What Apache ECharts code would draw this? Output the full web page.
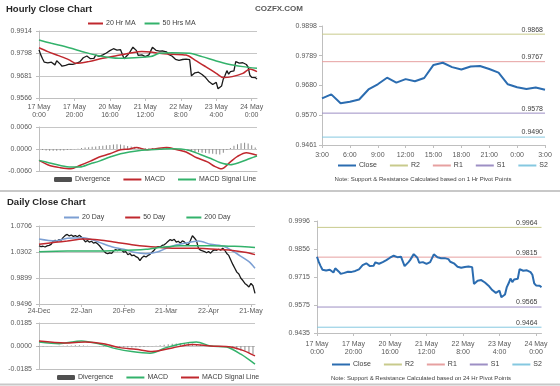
<!DOCTYPE html>
<html><head><meta charset="utf-8">
<script src="https://cdn.jsdelivr.net/npm/echarts@6/dist/echarts.min.js"></script>
<style>html,body{margin:0;padding:0;background:#fff}#c{width:560px;height:386px}</style>
</head><body><div id="c"></div>
<script>
// ---------- DATA ----------
// Hourly closes, 17 May 0:00 .. 24 May 3:00 (trading hours)
const hourlyClose = [
0.9817,0.9790,0.9770,0.9752,0.9759,0.9748,0.9742,0.9752,0.9750,0.9738,
0.9759,0.9755,0.9742,0.9731,0.9729,0.9736,0.9739,0.9742,0.9738,0.9741,
0.9739,0.9746,0.9744,0.9754,0.9762,0.9775,0.9780,0.9784,0.9776,0.9770,
0.9778,0.9772,0.9789,0.9786,0.9782,0.9792,0.9790,0.9786,0.9800,0.9809,
0.9812,0.9817,0.9822,0.9825,0.9815,0.9819,0.9817,0.9812,0.9770,0.9776,
0.9789,0.9800,0.9809,0.9830,0.9824,0.9812,0.9787,0.9785,0.9790,0.9787,
0.9781,0.9775,0.9790,0.9800,0.9829,0.9820,0.9814,0.9811,0.9809,0.9812,
0.9810,0.9817,0.9805,0.9792,0.9790,0.9784,0.9778,0.9767,0.9770,0.9762,
0.9759,0.9766,0.9764,0.9768,0.9764,0.9765,0.9681,0.9690,0.9697,0.9694,
0.9700,0.9692,0.9688,0.9684,0.9672,0.9664,0.9650,0.9642,0.9636,0.9632,
0.9647,0.9614,0.9620,0.9628,0.9665,0.9684,0.9708,0.9690,0.9703,0.9695,
0.9707,0.9755,0.9763,0.9747,0.9738,0.9749,0.9751,0.9740,0.9727,0.9684,
0.9673,0.9667,0.9672,0.9664];
// [hour index, value]
const ma20Hr = [[0,0.9827],[5,0.9807],[11,0.9786],[17,0.9764],[21,0.9746],[28,0.9755],[36,0.9772],[43,0.9784],[51,0.9798],[58,0.9807],[63,0.9805],[68,0.9798],[75,0.9793],[83,0.9789],[88,0.9763],[94,0.9729],[100,0.9694],[104,0.9672],[109,0.9677],[115,0.9694],[119,0.9717],[123,0.9703]];
const ma50Hr = [[0,0.9867],[7,0.9850],[17,0.9827],[26,0.9803],[36,0.9781],[45,0.9772],[54,0.9775],[63,0.9781],[68,0.9798],[75,0.9801],[85,0.9798],[92,0.9781],[100,0.9758],[107,0.9741],[115,0.9729],[123,0.9720]];
const hourlyMacd = [[0,-0.0031],[6,-0.0045],[12,-0.0051],[18,-0.0054],[23,-0.0045],[29,-0.0033],[34,-0.0022],[40,-0.0013],[46,-0.0002],[51,0.0000],[55,0.0004],[61,-0.0002],[66,0.0001],[72,0.0004],[78,-0.0002],[83,-0.0008],[89,-0.0024],[95,-0.0035],[99,-0.0047],[103,-0.0054],[108,-0.0035],[112,-0.0020],[117,-0.0010],[123,-0.0017]];
const hourlySignal = [[0,-0.0031],[6,-0.0038],[12,-0.0045],[18,-0.0049],[23,-0.0049],[29,-0.0040],[34,-0.0033],[40,-0.0022],[46,-0.0013],[51,-0.0008],[57,-0.0004],[63,-0.0002],[68,-0.0001],[74,0.0001],[80,0.0000],[85,-0.0004],[91,-0.0015],[97,-0.0026],[102,-0.0037],[108,-0.0043],[113,-0.0037],[119,-0.0026],[123,-0.0019]];
const hourlyDivStep = 2;
const hourlyDivergence = [
-0.0001,-0.0003,-0.0004,-0.0005,-0.0005,-0.0005,-0.0004,-0.0004,-0.0003,-0.0002,
-0.0001,0.0001,0.0003,0.0004,0.0005,0.0006,0.0007,0.0008,0.0009,0.0010,
0.0011,0.0012,0.0013,0.0012,0.0010,0.0008,0.0007,0.0006,0.0004,0.0003,
0.0002,0.0002,0.0003,0.0002,0.0002,0.0003,0.0002,0.0000,-0.0001,-0.0002,
-0.0003,-0.0004,-0.0005,-0.0007,-0.0008,-0.0009,-0.0010,-0.0011,-0.0012,-0.0013,
-0.0014,-0.0015,-0.0010,-0.0003,0.0003,0.0009,0.0013,0.0016,0.0017,0.0015,
0.0010,0.0004];
// last 24 hours, 23 May 3:00 .. 24 May 3:00
const pivotHourClose = [0.9632,0.9647,0.9614,0.9620,0.9628,0.9665,0.9684,0.9708,0.9690,0.9703,0.9695,0.9707,0.9755,0.9763,0.9747,0.9738,0.9749,0.9751,0.9740,0.9727,0.9684,0.9673,0.9667,0.9672,0.9664];
const pivotHourLevels = [0.9868,0.9767,0.9578,0.9490]; // R2,R1,S1,S2 (1 Hr pivots)
const pivotDayLevels = [0.9964,0.9815,0.9565,0.9464];  // R2,R1,S1,S2 (24 Hr pivots)

// Daily closes 24-Dec .. 24-May
const dailyClose = [
1.0400,1.0385,1.0392,1.0380,1.0398,1.0405,1.0420,1.0470,1.0482,1.0470,
1.0495,1.0488,1.0530,1.0560,1.0575,1.0552,1.0566,1.0545,1.0558,1.0540,
1.0562,1.0535,1.0500,1.0460,1.0480,1.0455,1.0470,1.0440,1.0452,1.0430,
1.0400,1.0360,1.0320,1.0290,1.0275,1.0290,1.0280,1.0320,1.0340,1.0325,
1.0345,1.0330,1.0300,1.0310,1.0260,1.0280,1.0245,1.0255,1.0230,1.0215,
1.0170,1.0215,1.0240,1.0225,1.0250,1.0265,1.0300,1.0330,1.0370,1.0385,
1.0380,1.0405,1.0415,1.0440,1.0470,1.0495,1.0480,1.0500,1.0455,1.0470,
1.0440,1.0475,1.0460,1.0425,1.0415,1.0480,1.0555,1.0520,1.0480,1.0360,
1.0330,1.0320,1.0310,1.0290,1.0310,1.0285,1.0320,1.0335,1.0330,1.0345,
1.0330,1.0360,1.0330,1.0280,1.0250,1.0180,1.0110,1.0050,0.9990,0.9960,
0.9895,0.9860,0.9815,0.9790,0.9760,0.9815,0.9780,0.9660];
const ma20Day = [[0,1.0505],[8,1.0474],[14,1.0515],[22,1.0525],[29,1.0463],[36,1.0385],[42,1.0345],[47,1.0298],[53,1.0275],[59,1.0308],[65,1.0385],[72,1.0437],[79,1.0474],[85,1.0422],[92,1.0385],[99,1.0256],[104,1.0153],[107,1.0050]];
const ma50Day = [[0,1.0422],[8,1.0453],[14,1.0474],[22,1.0505],[30,1.0489],[38,1.0453],[47,1.0411],[53,1.0390],[61,1.0370],[70,1.0360],[78,1.0360],[85,1.0350],[94,1.0334],[102,1.0298],[107,1.0262]];
const ma200Day = [[0,1.0308],[14,1.0318],[30,1.0318],[47,1.0334],[53,1.0345],[61,1.0375],[70,1.0401],[85,1.0401],[95,1.0392],[102,1.0385],[107,1.0372]];
const dailyMacd = [[0,0.0032],[10,0.0019],[21,0.0040],[30,0.0016],[38,-0.0021],[46,-0.0045],[55,-0.0058],[63,-0.0013],[70,0.0016],[78,0.0032],[85,0.0000],[93,-0.0008],[100,-0.0066],[107,-0.0146]];
const dailySignal = [[0,0.0040],[13,0.0024],[23,0.0032],[32,0.0019],[40,-0.0013],[48,-0.0026],[56,-0.0045],[66,-0.0016],[76,0.0013],[85,0.0000],[95,-0.0008],[101,-0.0035],[107,-0.0080]];
const dailyDivStep = 2;
const dailyDivergence = [
-0.0006,-0.0005,-0.0003,-0.0002,0.0000,0.0002,0.0003,0.0004,0.0005,0.0006,
0.0006,0.0005,0.0003,0.0001,-0.0001,-0.0003,-0.0005,-0.0007,-0.0009,-0.0010,
-0.0011,-0.0012,-0.0013,-0.0012,-0.0011,-0.0010,-0.0008,-0.0005,-0.0002,0.0002,
0.0006,0.0010,0.0014,0.0018,0.0021,0.0023,0.0024,0.0022,0.0019,0.0015,
0.0010,0.0006,0.0002,0.0000,-0.0002,-0.0004,-0.0008,-0.0013,-0.0020,-0.0028,
-0.0036,-0.0045,-0.0055,-0.0065];

// tick labels
const hourlyTickPos = [0,20,40,60,80,100,120];
const hourlyTickLabels = ['17 May\n0:00','17 May\n20:00','20 May\n16:00','21 May\n12:00','22 May\n8:00','23 May\n4:00','24 May\n0:00'];
const pivotHourTickPos = [0,3,6,9,12,15,18,21,24];
const pivotHourTickLabels = ['3:00','6:00','9:00','12:00','15:00','18:00','21:00','0:00','3:00'];
const dailyTickPos = [0,21,42,63,84,105];
const dailyTickLabels = ['24-Dec','22-Jan','20-Feb','21-Mar','22-Apr','21-May'];
const hourlyPriceTicks = [0.9566,0.9681,0.9798,0.9914];
const hourlyMacdTicks = [-0.006,0,0.006];
const pivotHourTicks = [0.9461,0.9570,0.9680,0.9789,0.9898];
const dailyPriceTicks = [0.9496,0.9899,1.0302,1.0706];
const dailyMacdTicks = [-0.0185,0,0.0185];
const pivotDayTicks = [0.9435,0.9575,0.9715,0.9856,0.9996];

// ---------- STYLE ----------
const FONT = "'Liberation Sans', Arial, sans-serif";
const AX = '#bfbfbf', LBL = '#595959', TXT = '#404040';
const RED = '#c0282e', GREEN = '#33b26b', MA20D = '#7c9fd3', BLUE = '#2b6cb0', BLACK = '#1a1a1a', DIV = '#8c8c8c';
const PIV_COLORS = ['#c8ca8c','#e6a0a0','#9d8fc4','#85c8e0'];
const PIV_NAMES = ['R2','R1','S1','S2'];

const displayNames = {h20:'20 Hr MA',h50:'50 Hrs MA',hDiv:'Divergence',hMACD:'MACD',hSig:'MACD Signal Line',
  pClose:'Close',pR2:'R2',pR1:'R1',pS1:'S1',pS2:'S2',d20:'20 Day',d50:'50 Day',d200:'200 Day',
  dDiv:'Divergence',dMACD:'MACD',dSig:'MACD Signal Line',bClose:'Close',bR2:'R2',bR1:'R1',bS1:'S1',bS2:'S2'};

const grids = [
  {left:39, top:31, width:218, height:67},
  {left:39, top:127, width:218, height:44},
  {left:322, top:26, width:223, height:119},
  {left:39, top:226, width:216, height:78},
  {left:39, top:323, width:216, height:46},
  {left:317, top:221, width:224.5, height:112}
];

function xAx(gi, max, pos, labels, showLabels, margin, showTick) {
  return {type:'value', gridIndex:gi, min:0, max:max,
    axisLine:{onZero:false, lineStyle:{color:AX}},
    axisTick:{show:showTick, customValues:pos, length:3, lineStyle:{color:AX}},
    axisLabel:{show:showLabels, customValues:pos, formatter:v=>{const k=pos.indexOf(v);return k<0?'':labels[k];},
      fontSize:7, color:LBL, fontFamily:FONT, lineHeight:8, margin:margin},
    splitLine:{show:false}};
}
function yAx(gi, ticks, split, margin) {
  return {type:'value', gridIndex:gi, min:ticks[0], max:ticks[ticks.length-1],
    axisLine:{show:true, lineStyle:{color:AX}},
    axisTick:{show:true, customValues:ticks, length:3, lineStyle:{color:AX}},
    axisLabel:{customValues:ticks, formatter:v=>v.toFixed(4), fontSize:7, color:LBL, fontFamily:FONT, margin:margin},
    splitLine:{show:split, lineStyle:{color:'#c6c6c6', width:1}}};
}
function lineS(name, gi, data, color, width, smooth) {
  return {name:name, type:'line', xAxisIndex:gi, yAxisIndex:gi, data:data, symbol:'none', smooth:smooth||false,
    silent:true, lineStyle:{color:color, width:width}, itemStyle:{color:color}, z:3};
}
function barS(name, gi, vals, step) {
  return {name:name, type:'bar', xAxisIndex:gi, yAxisIndex:gi, data:vals.map((v,k)=>[k*step,v]),
    barWidth:1, silent:true, itemStyle:{color:DIV}, z:2};
}
function pivotS(prefix, gi, levels, xMax, offX) {
  return levels.map((v,k)=>({
    name:prefix+PIV_NAMES[k], type:'line', xAxisIndex:gi, yAxisIndex:gi, symbol:'none', silent:true,
    lineStyle:{color:PIV_COLORS[k], width:1}, itemStyle:{color:PIV_COLORS[k]}, z:2,
    data:[[0,v],{value:[xMax,v], symbol:'circle', symbolSize:0.1,
      label:{show:true, position:'top', align:'right', distance:1, offset:[offX,0], formatter:()=>v.toFixed(4),
        fontSize:7, color:TXT, fontFamily:FONT}}]
  }));
}
const idx = arr => arr.map((v,i)=>[i,v]);

function legend(items, left, top, gap, w) {
  return {data:items, left:left, top:top, padding:0, itemGap:gap, itemWidth:w, itemHeight:5,
    formatter:n=>displayNames[n], itemStyle:{opacity:0}, selectedMode:false,
    textStyle:{fontSize:7, color:TXT, fontFamily:FONT, padding:[0,0,0,-2]}};
}

const option = {
  animation:false,
  textStyle:{fontFamily:FONT},
  grid:grids,
  xAxis:[
    xAx(0,123,hourlyTickPos,hourlyTickLabels,true,5,true),
    xAx(1,123,hourlyTickPos,hourlyTickLabels,false,5,false),
    xAx(2,24,pivotHourTickPos,pivotHourTickLabels,true,6,true),
    xAx(3,107,dailyTickPos,dailyTickLabels,true,3,true),
    xAx(4,107,dailyTickPos,dailyTickLabels,false,3,false),
    xAx(5,123,hourlyTickPos,hourlyTickLabels,true,7,true)
  ],
  yAxis:[
    yAx(0,hourlyPriceTicks,true,7),
    yAx(1,hourlyMacdTicks,true,7),
    yAx(2,pivotHourTicks,false,5),
    yAx(3,dailyPriceTicks,true,7),
    yAx(4,dailyMacdTicks,true,7),
    yAx(5,pivotDayTicks,false,7)
  ],
  legend:[
    legend(['h20','h50'],87,20,8,15),
    legend([{name:'hDiv',itemStyle:{opacity:1,color:'#505050'}},'hMACD','hSig'],54,176,12,18),
    legend(['pClose','pR2','pR1','pS1','pS2'],337,162,12,18),
    legend(['d20','d50','d200'],63,214,20,15),
    legend([{name:'dDiv',itemStyle:{opacity:1,color:'#505050'}},'dMACD','dSig'],57,374,12,18),
    legend(['bClose','bR2','bR1','bS1','bS2'],331,361,12,18)
  ],
  graphic:[
    {type:'text', left:6, top:4, style:{text:'Hourly Close Chart', font:'bold 9.5px '+FONT, fill:'#262626'}},
    {type:'text', left:255, top:5, style:{text:'COZFX.COM', font:'bold 8px '+FONT, fill:'#595959'}},
    {type:'text', left:7, top:197, style:{text:'Daily Close Chart', font:'bold 9.5px '+FONT, fill:'#262626'}},
    {type:'text', x:423, y:179, style:{text:'Note: Support & Resistance Calculated based on 1 Hr Pivot Points', font:'6px '+FONT, fill:TXT, align:'center', verticalAlign:'middle'}},
    {type:'text', x:421, y:378, style:{text:'Note: Support & Resistance Calculated based on 24 Hr Pivot Points', font:'6px '+FONT, fill:TXT, align:'center', verticalAlign:'middle'}},
    {type:'line', shape:{x1:0,y1:191,x2:560,y2:191}, style:{stroke:'#c8c8c8', lineWidth:2}},
    {type:'line', shape:{x1:0,y1:384.5,x2:560,y2:384.5}, style:{stroke:'#c8c8c8', lineWidth:2}}
  ],
  series:[
    lineS('hClose',0,idx(hourlyClose),BLACK,1.3),
    lineS('h20',0,ma20Hr,RED,1.5,0.3),
    lineS('h50',0,ma50Hr,GREEN,1.5,0.3),
    barS('hDiv',1,hourlyDivergence,hourlyDivStep),
    lineS('hMACD',1,hourlyMacd,RED,1.5,0.3),
    lineS('hSig',1,hourlySignal,GREEN,1.5,0.3),
    ...pivotS('p',2,pivotHourLevels,24,-2),
    lineS('pClose',2,idx(pivotHourClose),BLUE,2),
    lineS('dClose',3,idx(dailyClose),BLACK,1.3),
    lineS('d20',3,ma20Day,MA20D,1.5,0.3),
    lineS('d50',3,ma50Day,RED,1.5,0.3),
    lineS('d200',3,ma200Day,GREEN,1.5,0.3),
    barS('dDiv',4,dailyDivergence,dailyDivStep),
    lineS('dMACD',4,dailyMacd,GREEN,1.5,0.3),
    lineS('dSig',4,dailySignal,RED,1.5,0.3),
    ...pivotS('b',5,pivotDayLevels,123,-4),
    lineS('bClose',5,idx(hourlyClose),BLUE,2)
  ]
};
const chart = echarts.init(document.getElementById('c'));
chart.setOption(option);
</script></body></html>
